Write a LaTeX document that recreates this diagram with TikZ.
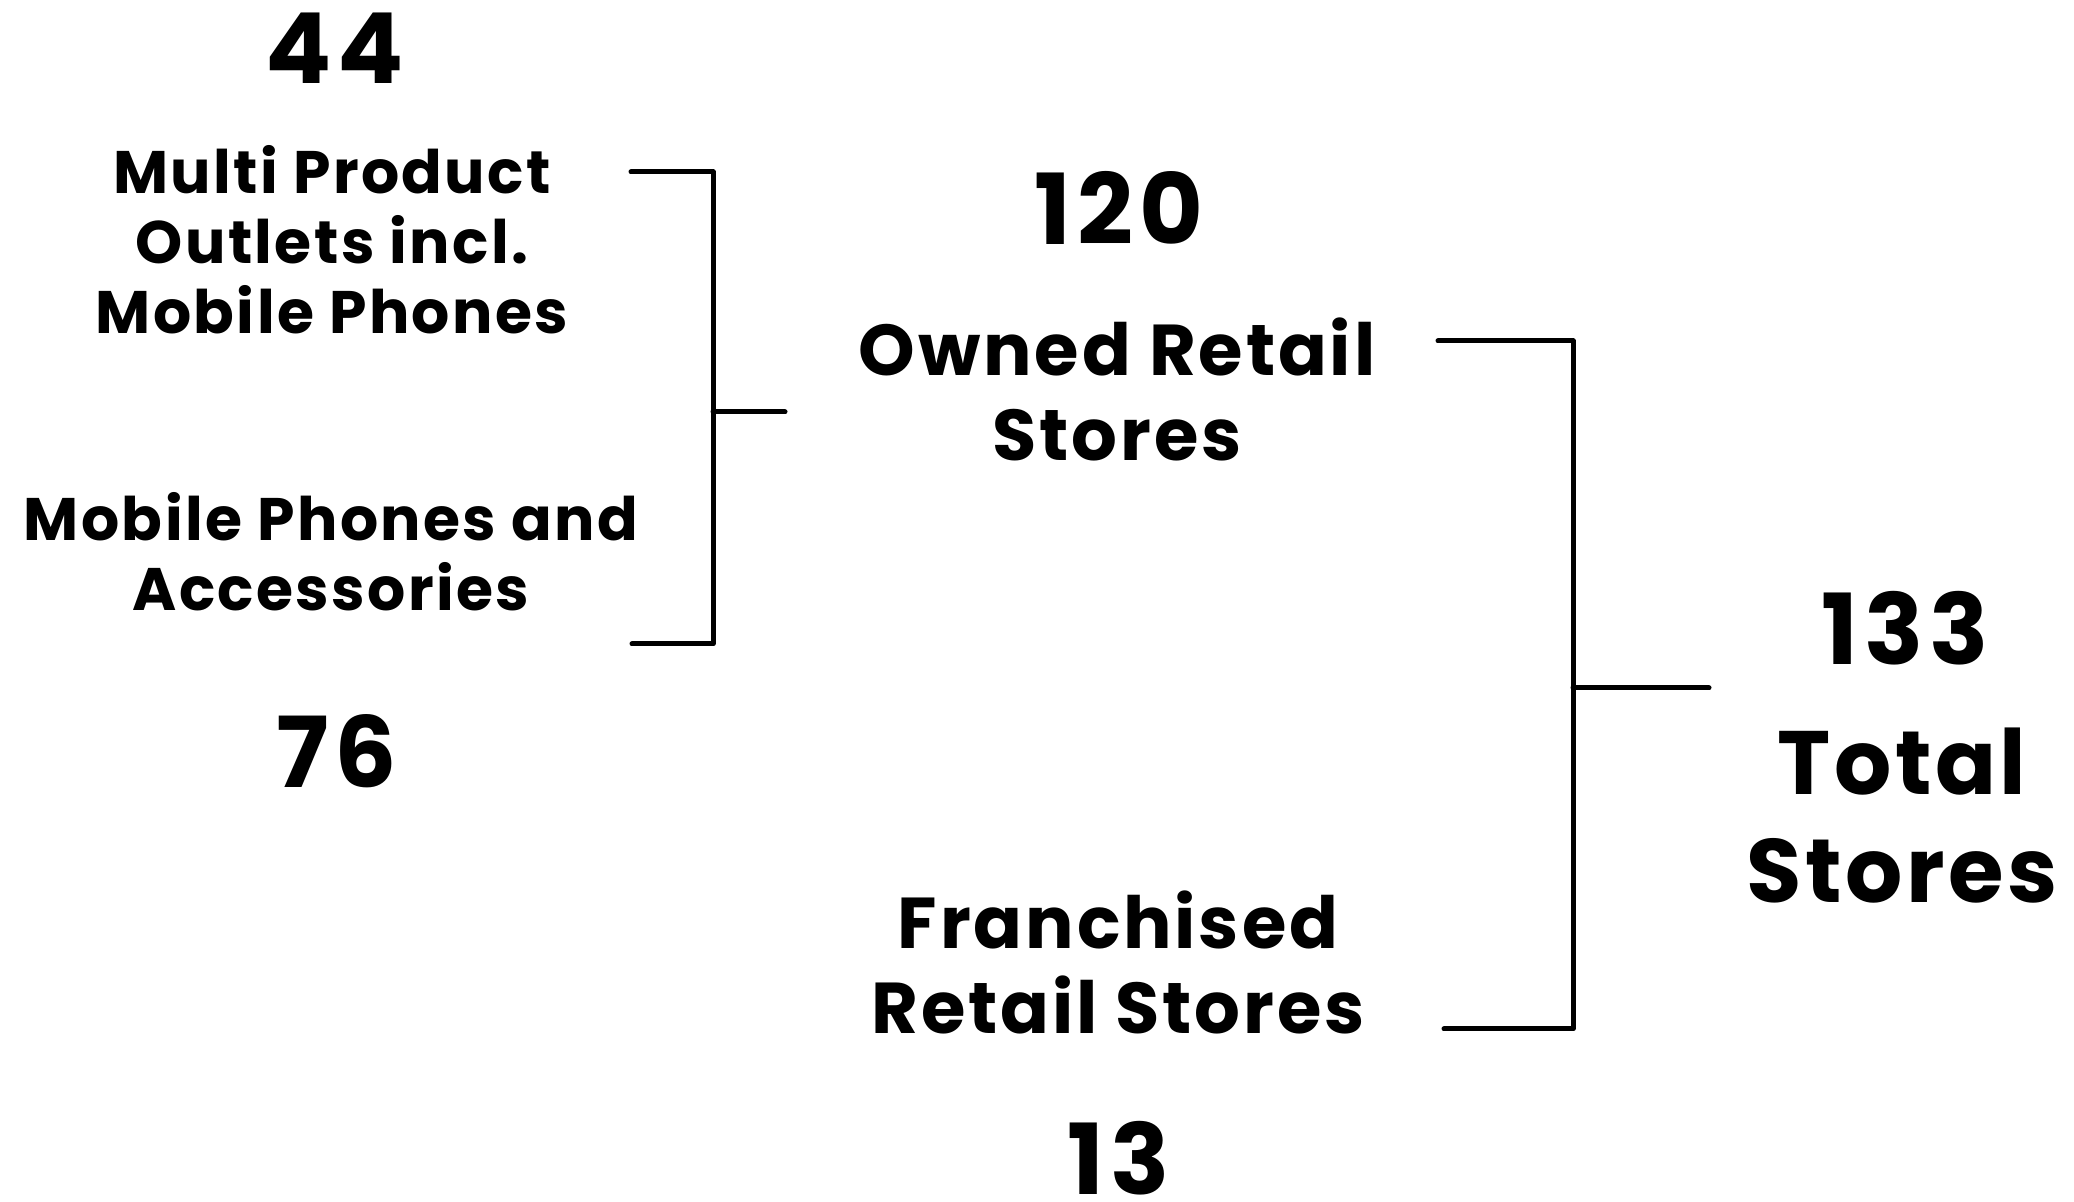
\documentclass[tikz,border=0pt]{standalone}
\usepackage{fontspec}
\setmainfont{Poppins}[LetterSpace=4]
\newfontfamily\numfont{Poppins}[LetterSpace=6]
\begin{document}
\begin{tikzpicture}[x=0.5pt,y=-0.5pt,
    brk/.style={line width=2.5pt,line cap=round,line join=round},
    lbl/.style={align=center,inner sep=0pt,anchor=base},
    num/.style={inner sep=0pt,anchor=base,font=\numfont\bfseries\fontsize{49}{49}\selectfont}]
  \useasboundingbox (0,0) rectangle (2074,1202);
  % left column
  \node[num] (n44) at (335,84) {44};
  \node[lbl,font=\bfseries\fontsize{30}{35}\selectfont] (mpo) at (332,334) {Multi Product\\Outlets incl.\\Mobile Phones};
  \node[lbl,font=\bfseries\fontsize{30}{35}\selectfont] (mpa) at (331,611) {Mobile Phones and\\Accessories};
  \node[num] (n76) at (337,788) {76};
  % middle column
  \node[num] (n120) at (1119,245) {120};
  \node[lbl,font=\bfseries\fontsize{36}{42.5}\selectfont] (ors) at (1117,461) {Owned Retail\\Stores};
  \node[lbl,font=\bfseries\fontsize{36}{42.5}\selectfont] (frs) at (1118,1034) {Franchised\\Retail Stores};
  \node[num] (n13) at (1119,1195) {13};
  % right column
  \node[num] (n133) at (1905,665) {133};
  \node[lbl,font=\bfseries\fontsize{45}{54}\selectfont] (tot) at (1902,903) {Total\\Stores};
  % brackets
  \coordinate (A1) at (713,172);
  \coordinate (B1) at (713,644);
  \coordinate (M1) at (785,412);
  \draw[brk] (A1) ++(-82,0) -- (A1) -- (B1) -- ++(-81,0);
  \draw[brk] (M1) -- (M1 -| A1);
  \coordinate (A2) at (1573,341);
  \coordinate (B2) at (1573,1029);
  \coordinate (M2) at (1709,688);
  \draw[brk] (A2) ++(-135,0) -- (A2) -- (B2) -- ++(-129,0);
  \draw[brk] (M2) -- (M2 -| A2);
\end{tikzpicture}
\end{document}
